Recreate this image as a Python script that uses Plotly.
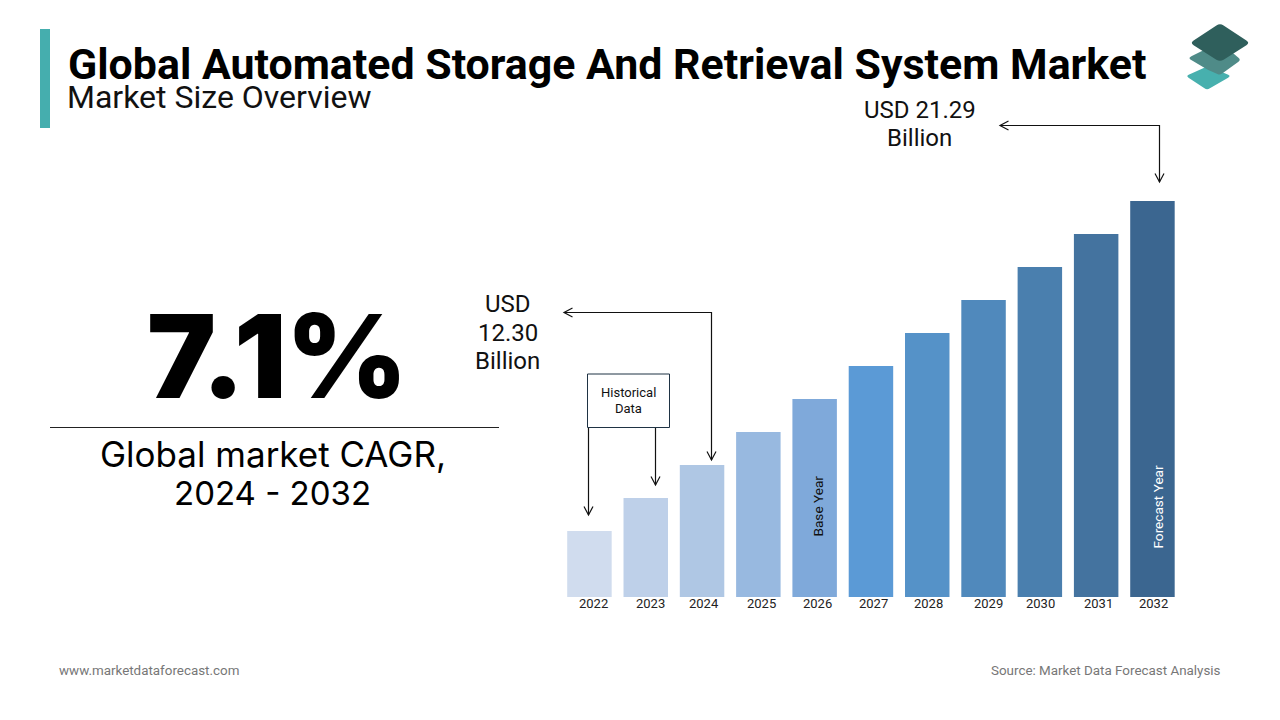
import plotly.graph_objects as go

# Data
years = ["2022", "2023", "2024", "2025", "2026", "2027", "2028", "2029", "2030", "2031", "2032"]
# bar heights (the bars are not drawn to the USD scale)
bar_heights = [2, 3, 4, 5, 6, 7, 8, 9, 10, 11, 12]
bar_colors = ["#d0dcee", "#bed0e9", "#afc7e4", "#98b9e0", "#7fa9da", "#5b9ad6",
              "#5592c8", "#5089bc", "#4a7fae", "#44739f", "#3b6690"]
# year labels sit a little right of the bar centres in the original
label_nudge = [4, 5, 2, 3, 3, 3, 1, 5, 1, 2, 1]

W, H = 1280, 720


def px(x):
    return x / W


def py(y):
    return 1 - y / H


def label(text, x, y, size, color="#111111", family="Roboto", weight=400, angle=0):
    return dict(text=text, x=px(x), y=py(y), xref="paper", yref="paper", showarrow=False,
                xanchor="center", yanchor="middle", textangle=angle,
                font=dict(family=family, size=size, color=color, weight=weight))


def line(points, color="#111111", width=1.2):
    path = "M " + " L ".join(f"{px(a)},{py(b)}" for a, b in points)
    return dict(type="path", path=path, xref="paper", yref="paper",
                line=dict(color=color, width=width))


def poly(points, fill):
    # polygon with softened corners for the logo layers
    n = len(points)
    parts = []
    for i, (a, b) in enumerate(points):
        pa, pb = points[i - 1]
        na, nb = points[(i + 1) % n]
        t = 0.12
        start = (a + (pa - a) * t, b + (pb - b) * t)
        end = (a + (na - a) * t, b + (nb - b) * t)
        parts.append(("M" if i == 0 else "L") + f" {px(start[0])},{py(start[1])}")
        parts.append(f"Q {px(a)},{py(b)} {px(end[0])},{py(end[1])}")
    return dict(type="path", path=" ".join(parts) + " Z", xref="paper", yref="paper",
                fillcolor=fill, line_width=0)


def down_head(x, y):
    return line([(x - 4.5, y - 8.5), (x, y), (x + 4.5, y - 8.5)])


def left_head(x, y):
    return line([(x + 8.5, y - 4.5), (x, y), (x + 8.5, y + 4.5)])


fig = go.Figure(
    go.Bar(x=years, y=bar_heights, marker=dict(color=bar_colors, line_width=0), hoverinfo="x")
)

shapes = [
    # accent bar, rule under the CAGR figure
    dict(type="rect", x0=px(40), x1=px(50), y0=py(128), y1=py(29), xref="paper", yref="paper",
         fillcolor="#45aeae", line_width=0),
    line([(50, 427.5), (499, 427.5)], color="#222222", width=1),
    # logo
    poly([(1208, 66), (1231, 76), (1207, 90), (1186, 76)], "#47b0ae"),
    poly([(1188, 58), (1220, 42), (1241, 60), (1220, 75), (1208, 70)], "#4f8b88"),
    poly([(1220, 23), (1250, 43), (1220, 62), (1190, 43)], "#2f5f5c"),
    # historical data box and its arrows
    dict(type="rect", x0=px(587.5), x1=px(669.5), y0=py(427.5), y1=py(374), xref="paper", yref="paper",
         fillcolor="white", line=dict(color="#1f3344", width=1)),
    line([(588.5, 428), (588.5, 515)]),
    down_head(588.5, 515),
    line([(655.5, 428), (655.5, 485)]),
    down_head(655.5, 485),
    # 2024 value arrow
    line([(564, 312.5), (711.5, 312.5), (711.5, 460)]),
    left_head(564, 312.5),
    down_head(711.5, 460),
    # 2032 value arrow
    line([(1000, 125.5), (1159.5, 125.5), (1159.5, 182)]),
    left_head(1000, 125.5),
    down_head(1159.5, 182),
]

annotations = [
    label("Global Automated Storage And Retrieval System Market", 606.5, 64, 42.9, "#000000", weight=700),
    label("Market Size Overview", 219, 97, 32),
    label("7.1%", 277, 356, 116, "#000000", family="Inter", weight=900),
    label("Global market CAGR,", 273, 454, 35, "#000000", family="Inter"),
    label("2024 - 2032", 272, 493, 33, "#000000", family="Inter"),
    label("USD 21.29", 919.5, 110, 24),
    label("Billion", 919.5, 138, 24),
    label("USD", 507.5, 304, 24),
    label("12.30", 507.5, 333, 24),
    label("Billion", 507.5, 361, 24),
    label("Historical", 628.5, 393, 13),
    label("Data", 628.5, 408, 13),
    label("Base Year", 817.5, 506, 13.6, angle=-90),
    label("Forecast Year", 1157, 507.5, 13.6, "#ffffff", angle=-90),
    label("www.marketdataforecast.com", 149, 670.5, 13.4, "#777777"),
    label("Source: Market Data Forecast Analysis", 1105.5, 670.5, 13.4, "#777777"),
]
# category axis positions are serial numbers for annotations
for i, (year, nudge) in enumerate(zip(years, label_nudge)):
    annotations.append(dict(text=year, x=i, y=0, xref="x", yref="y", showarrow=False, yanchor="top",
                            xshift=nudge, yshift=3, font=dict(family="Roboto", size=13, color="#222222")))

fig.update_layout(
    width=W,
    height=H,
    margin=dict(l=0, r=0, t=0, b=0),
    paper_bgcolor="white",
    plot_bgcolor="white",
    showlegend=False,
    bargap=0.21,
    xaxis=dict(type="category", domain=[px(561.3), px(1180.6)], range=[-0.5, 10.5],
               showticklabels=False, showgrid=False, zeroline=False, ticks=""),
    yaxis=dict(domain=[py(597), py(201)], range=[0, 12], visible=False),
    shapes=shapes,
    annotations=annotations,
)

fig.write_html("out.html", config=dict(displayModeBar=False), post_script="document.body.style.margin='0';")
